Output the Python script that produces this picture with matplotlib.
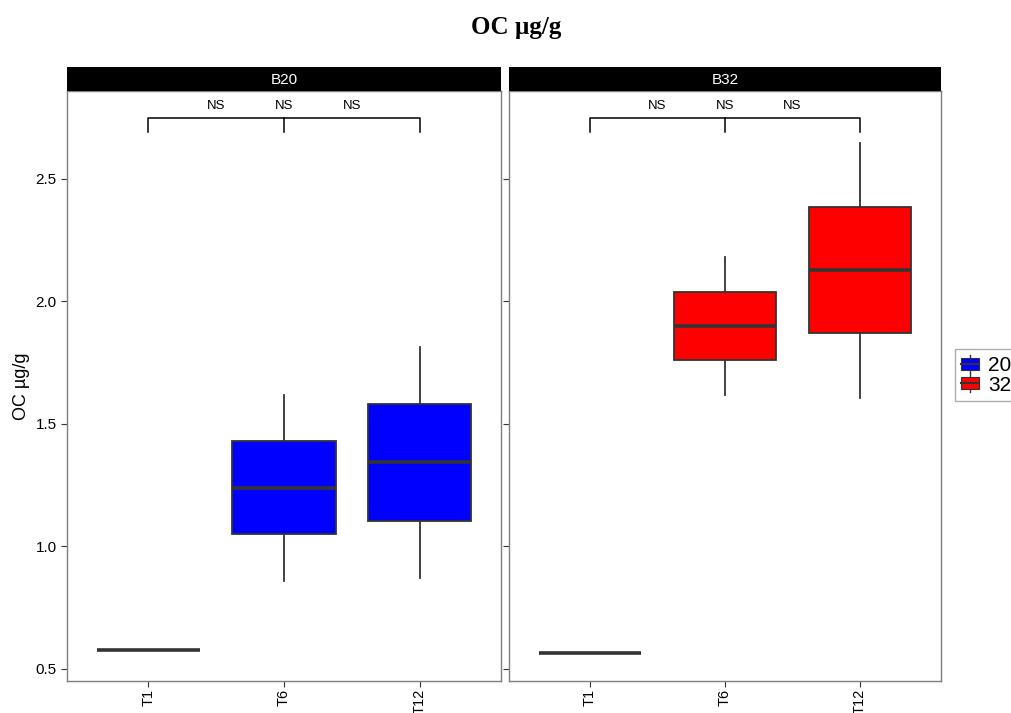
import matplotlib
matplotlib.use("Agg")
import matplotlib.pyplot as plt
from matplotlib.patches import Patch, Rectangle
from matplotlib.lines import Line2D
from matplotlib.legend_handler import HandlerBase

# data
times = ["T1", "T6", "T12"]
panels = ["B20", "B32"]
colors = {"B20": "#0000FF", "B32": "#FF0000"}
legend_labels = ["20", "32"]

# box stats per panel: [low whisker, Q1, median, Q3, high whisker]
b20_stats = [
    [0.578, 0.578, 0.578, 0.578, 0.578],
    [0.86, 1.05, 1.24, 1.43, 1.62],
    [0.87, 1.105, 1.345, 1.58, 1.815],
]
b32_stats = [
    [0.565, 0.565, 0.565, 0.565, 0.565],
    [1.62, 1.76, 1.90, 2.04, 2.18],
    [1.605, 1.87, 2.13, 2.385, 2.645],
]
sig_labels = ["NS", "NS", "NS"]
sig_y = 2.75

plt.rcParams["font.family"] = ["Liberation Sans", "DejaVu Sans"]

edge = "#333333"


# small boxplot glyph for the legend keys
class BoxKey(HandlerBase):
    def create_artists(self, legend, orig, xd, yd, width, height, fontsize, trans):
        x0, y0 = -xd, -yd
        whisk = Line2D([x0 + width / 2] * 2, [y0 - 0.05 * height, y0 + 1.05 * height],
                       color=edge, lw=1, transform=trans)
        box = Rectangle((x0, y0 + 0.15 * height), width, 0.7 * height,
                        facecolor=orig.get_facecolor(), edgecolor=edge, lw=0.8,
                        transform=trans)
        med = Line2D([x0, x0 + width], [y0 + height / 2] * 2, color=edge, lw=1.5,
                     transform=trans)
        return [whisk, box, med]


fig = plt.figure(figsize=(10.11, 7.13), dpi=100)
W, H = 1011, 713
ax_l = fig.add_axes([67 / W, 1 - 681 / H, 434 / W, 590 / H])
ax_r = fig.add_axes([509 / W, 1 - 681 / H, 432 / W, 590 / H])

for ax, name, stats in zip([ax_l, ax_r], panels, [b20_stats, b32_stats]):
    bstats = []
    for lab, s in zip(times, stats):
        bstats.append(dict(label=lab, whislo=s[0], q1=s[1], med=s[2],
                           q3=s[3], whishi=s[4], fliers=[]))
    ax.bxp(bstats, positions=[1, 2, 3], widths=0.76, patch_artist=True,
           showcaps=False,
           boxprops=dict(facecolor=colors[name], edgecolor=edge, linewidth=1.3),
           medianprops=dict(color=edge, linewidth=2.6),
           whiskerprops=dict(color=edge, linewidth=1.3))

    ax.set_xlim(0.4, 3.6)
    ax.set_ylim(0.451, 2.859)
    ax.set_yticks([0.5, 1.0, 1.5, 2.0, 2.5])
    ax.set_xticks([1, 2, 3])
    ax.set_xticklabels(times, rotation=90)
    for sp in ax.spines.values():
        sp.set_color("#7f7f7f")
        sp.set_linewidth(1.0)
    ax.tick_params(colors="#333333", labelcolor="black", length=4, width=0.8,
                   labelsize=11)
    ax.tick_params(axis="x", pad=1.5, labelsize=10.5)

    # significance bracket T1 - T6 - T12
    ax.plot([1, 1, 3, 3], [sig_y - 0.06, sig_y, sig_y, sig_y - 0.06],
            color="black", lw=1.1)
    ax.plot([2, 2], [sig_y, sig_y - 0.06], color="black", lw=1.1)
    for xpos, lab in zip([1.5, 2, 2.5], sig_labels):
        ax.text(xpos, sig_y + 0.025, lab, ha="center", va="bottom", fontsize=9.5)

    # facet strip
    strip = ax.inset_axes([0, 1.0, 1, 24 / 590])
    strip.set_facecolor("black")
    strip.set_xticks([])
    strip.set_yticks([])
    for sp in strip.spines.values():
        sp.set_visible(False)
    strip.text(0.5, 0.45, name, color="white", ha="center", va="center",
               fontsize=11, transform=strip.transAxes)

ax_r.tick_params(labelleft=False)
ax_l.set_ylabel("OC µg/g", fontsize=13, labelpad=4)

fig.suptitle("OC µg/g", x=0.511, y=0.978, fontsize=18, fontweight="bold",
             family="Liberation Serif")

handles = [Patch(facecolor=colors[p], edgecolor=edge) for p in panels]
fig.legend(handles, legend_labels, loc="center left",
           bbox_to_anchor=(955 / W, 1 - 375 / H), fontsize=15, frameon=True,
           fancybox=False, edgecolor="#999999", handlelength=0.85,
           handleheight=0.85, handletextpad=0.45, borderpad=0.3, labelspacing=0.0,
           borderaxespad=0, handler_map={Patch: BoxKey()})

fig.savefig("out.png", dpi=100)
